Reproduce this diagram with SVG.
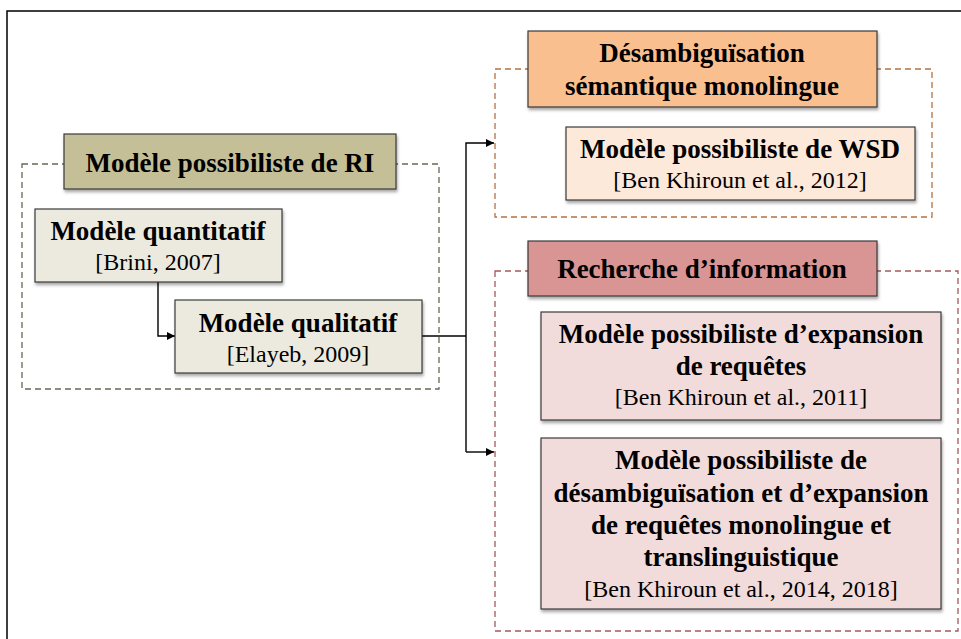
<svg xmlns="http://www.w3.org/2000/svg" width="961" height="639" viewBox="0 0 961 639">
<defs>
<filter id="sh" x="-10%" y="-10%" width="120%" height="130%">
<feDropShadow dx="1" dy="2.5" stdDeviation="1.5" flood-color="#000" flood-opacity="0.35"/>
</filter>
<marker id="arr" viewBox="0 0 10 10" refX="10" refY="5" markerWidth="8" markerHeight="8" markerUnits="userSpaceOnUse" orient="auto">
<path d="M0,0 L10,5 L0,10 z" fill="#000"/>
</marker>
</defs>
<style>
.box{stroke:#3a3a3a;stroke-width:1.2;filter:url(#sh)}
.b{font-family:"Liberation Serif","Times New Roman",serif;font-weight:bold;font-size:27px;fill:#000;text-anchor:middle}
.r{font-family:"Liberation Serif","Times New Roman",serif;font-size:24px;fill:#000;text-anchor:middle}
.dash{fill:none;stroke-width:1.3;stroke-dasharray:6,4}
.conn{fill:none;stroke:#000;stroke-width:1.4}
</style>
<rect width="961" height="639" fill="#fff"/>
<path d="M7,639 V11 H961" fill="none" stroke="#000" stroke-width="1.5"/>

<g id="group-ri">
<rect class="dash" x="22" y="164" width="417" height="225" stroke="#6b6553"/>
</g>
<g id="group-wsd">
<rect class="dash" x="495" y="69" width="437" height="148" stroke="#b57240"/>
</g>
<g id="group-recherche">
<rect class="dash" x="495" y="271" width="463" height="360" stroke="#a45a5a"/>
</g>

<g id="connectors">
<path class="conn" d="M158,282 V336 H175" marker-end="url(#arr)"/>
<path class="conn" d="M422,336 H466"/>
<path class="conn" d="M466,452 V143 H494" marker-end="url(#arr)"/>
<path class="conn" d="M466,452 H494" marker-end="url(#arr)"/>
</g>

<g id="title-ri">
<rect class="box" x="64" y="134" width="332" height="55" fill="#c5bf98"/>
<text class="b" x="230" y="172">Modèle possibiliste de RI</text>
</g>
<g id="quantitatif">
<rect class="box" x="35" y="209" width="247" height="73" fill="#eceadf"/>
<text class="b" x="158" y="240">Modèle quantitatif</text>
<text class="r" x="158" y="270">[Brini, 2007]</text>
</g>
<g id="qualitatif">
<rect class="box" x="175" y="300" width="247" height="73" fill="#eceadf"/>
<text class="b" x="298" y="332">Modèle qualitatif</text>
<text class="r" x="298" y="362">[Elayeb, 2009]</text>
</g>

<g id="title-wsd">
<rect class="box" x="528" y="31" width="349" height="76" fill="#f9bf8f"/>
<text class="b" x="702" y="62">Désambiguïsation</text>
<text class="b" x="702" y="95">sémantique monolingue</text>
</g>
<g id="wsd">
<rect class="box" x="566" y="127" width="349" height="73" fill="#fde9da"/>
<text class="b" x="740" y="158">Modèle possibiliste de WSD</text>
<text class="r" x="740" y="188">[Ben Khiroun et al., 2012]</text>
</g>

<g id="title-recherche">
<rect class="box" x="528" y="241" width="349" height="55" fill="#d99594"/>
<text class="b" x="702" y="278">Recherche d’information</text>
</g>
<g id="expansion">
<rect class="box" x="541" y="312" width="400" height="108" fill="#f2dcdb"/>
<text class="b" x="741" y="343">Modèle possibiliste d’expansion</text>
<text class="b" x="741" y="375">de requêtes</text>
<text class="r" x="741" y="405">[Ben Khiroun et al., 2011]</text>
</g>
<g id="desamb-expansion">
<rect class="box" x="541" y="438" width="400" height="171" fill="#f2dcdb"/>
<text class="b" x="741" y="469">Modèle possibiliste de</text>
<text class="b" x="741" y="502">désambiguïsation et d’expansion</text>
<text class="b" x="741" y="534">de requêtes monolingue et</text>
<text class="b" x="741" y="566">translinguistique</text>
<text class="r" x="741" y="597">[Ben Khiroun et al., 2014, 2018]</text>
</g>
</svg>
